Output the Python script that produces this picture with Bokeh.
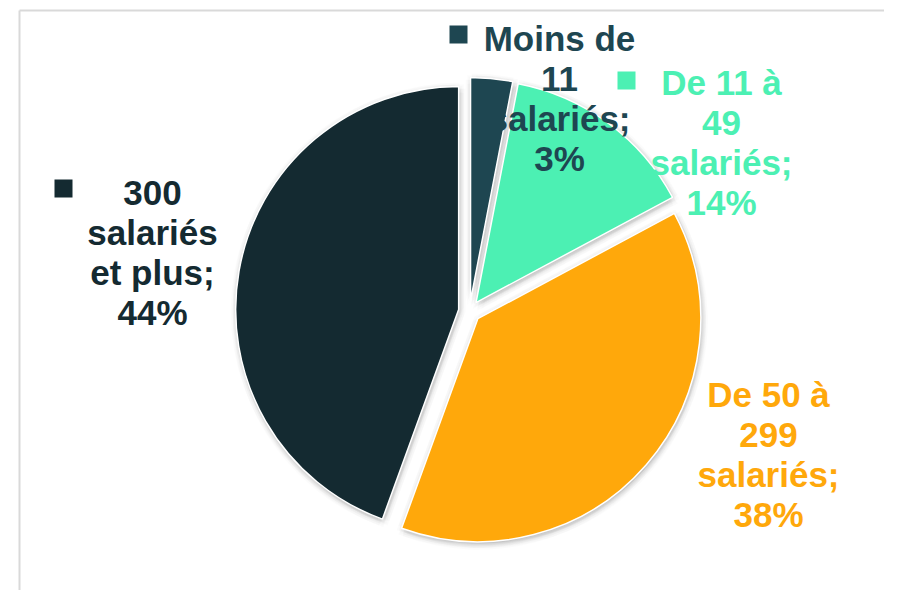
import math
from bokeh.plotting import figure
from bokeh.models import Range1d
from bokeh.embed import file_html
from bokeh.resources import INLINE
from bokeh.core.properties import value

# ---- data ----
categories = ["Moins de 11 salariés", "De 11 à 49 salariés", "De 50 à 299 salariés", "300 salariés et plus"]
values = [3, 14, 38, 44]
label_lines = [["Moins de", "11", "salariés;"],
               ["De 11 à", "49", "salariés;"],
               ["De 50 à", "299", "salariés;"],
               ["300", "salariés", "et plus;"]]
colors = ["#1e4651", "#4cf0b3", "#ffa80b", "#142a31"]
show_key = [True, True, False, True]

# ---- layout (picture pixel coordinates) ----
W, H = 884, 590
def PX(x): return x
def PY(y): return H - y

cx, cy, R, explode = PX(469), PY(311), 223, 11
label_anchor = [(559, 38), (721, 82), (768, 394), (152, 192)]
key_pos = [(458, 34), (626, 80), None, (63, 188)]
line_pitch = 40
font = value("Liberation Sans")

p = figure(width=W, height=H, x_range=Range1d(0, W), y_range=Range1d(0, H),
           output_backend="svg", toolbar_location=None, min_border=0,
           x_axis_type=None, y_axis_type=None)
p.grid.visible = False
p.outline_line_color = None
p.background_fill_color = "white"
p.border_fill_color = "white"

# chart area border
p.line([PX(19), W], [PY(10), PY(10)], line_color="#d9d9d9", line_width=2)
p.line([PX(19), PX(19)], [PY(10), 0], line_color="#d9d9d9", line_width=2)

total = float(sum(values))
cum = 0.0
wx, wy, ws, we, wc = [], [], [], [], []
sx, sy, ss, se = [], [], [], []
for v, c in zip(values, colors):
    t1 = 2 * math.pi * cum / total
    cum += v
    t2 = 2 * math.pi * cum / total
    tm = (t1 + t2) / 2
    x0 = cx + explode * math.sin(tm)
    y0 = cy + explode * math.cos(tm)
    wx.append(x0); wy.append(y0)
    ws.append(math.pi / 2 - t2); we.append(math.pi / 2 - t1); wc.append(c)
    # soft shadow copies
    for r_off in (2, 4, 6):
        for k in range(8):
            a = 2 * math.pi * k / 8
            sx.append(x0 + r_off * math.cos(a) + 1)
            sy.append(y0 + r_off * math.sin(a) - 2)
            ss.append(math.pi / 2 - t2); se.append(math.pi / 2 - t1)

p.wedge(x=sx, y=sy, radius=R, start_angle=ss, end_angle=se, direction="anticlock",
        fill_color="black", fill_alpha=0.015, line_color=None)
p.wedge(x=wx, y=wy, radius=R, start_angle=ws, end_angle=we, direction="anticlock",
        fill_color=wc, line_color="white", line_width=1.5)

# labels
tx, ty, tt, tc = [], [], [], []
for i, (lines, v) in enumerate(zip(label_lines, values)):
    ax, ay = label_anchor[i]
    all_lines = lines + [f"{v}%"]
    for j, ln in enumerate(all_lines):
        tx.append(PX(ax)); ty.append(PY(ay + j * line_pitch)); tt.append(ln); tc.append(colors[i])
p.text(x=tx, y=ty, text=tt, text_color=tc, text_font=font, text_font_size="35px",
       text_font_style="bold", text_align="center", text_baseline="alphabetic")

# legend keys
kx, ky, kc = [], [], []
for i, kp in enumerate(key_pos):
    if show_key[i] and kp is not None:
        kx.append(PX(kp[0])); ky.append(PY(kp[1])); kc.append(colors[i])
p.rect(x=kx, y=ky, width=18, height=18, fill_color=kc, line_color=None)

open("out.html", "w").write(file_html(p, INLINE))
